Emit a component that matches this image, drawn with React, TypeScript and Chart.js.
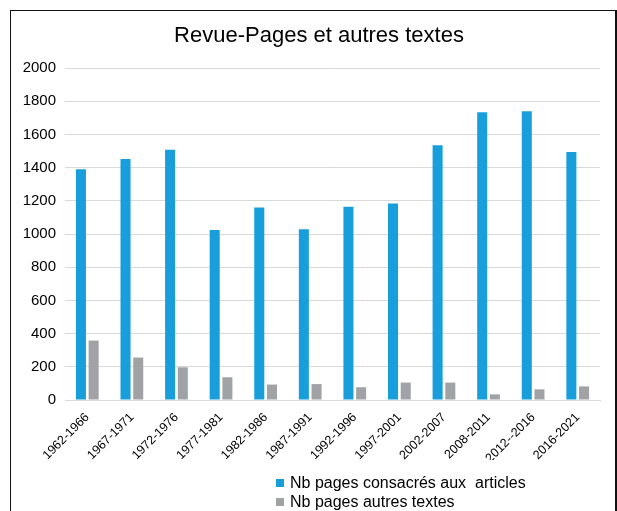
import React, { useEffect, useRef } from "react";
import { Chart, registerables } from "chart.js";

Chart.register(...registerables);

const categories = [
  "1962-1966",
  "1967-1971",
  "1972-1976",
  "1977-1981",
  "1982-1986",
  "1987-1991",
  "1992-1996",
  "1997-2001",
  "2002-2007",
  "2008-2011",
  "2012--2016",
  "2016-2021",
];
const articlePages = [1390, 1452, 1508, 1024, 1160, 1028, 1164, 1184, 1535, 1733, 1739, 1494];
const otherPages = [358, 256, 197, 137, 93, 96, 77, 105, 105, 34, 64, 82];
const seriesNames = ["Nb pages consacrés aux  articles", "Nb pages autres textes"];
const yTicks = [0, 200, 400, 600, 800, 1000, 1200, 1400, 1600, 1800, 2000];
const chartTitle = "Revue-Pages et autres textes";

const FONT = "'Liberation Sans', Arial, sans-serif";

const titleLegendPlugin = {
  id: "titleAndLegend",
  afterDraw(chart: any) {
    const ctx = chart.ctx;
    ctx.save();
    // title
    ctx.font = `22px ${FONT}`;
    ctx.fillStyle = "#000";
    ctx.textAlign = "center";
    ctx.textBaseline = "middle";
    ctx.fillText(chartTitle, 319, 36);
    // legend
    ctx.font = `16px ${FONT}`;
    ctx.textAlign = "left";
    const x0 = 276;
    const y0 = 483;
    const rowH = 19;
    chart.data.datasets.forEach((ds: any, i: number) => {
      const y = y0 + i * rowH;
      ctx.fillStyle = ds.backgroundColor;
      ctx.fillRect(x0, y - 4, 8, 8);
      ctx.fillStyle = "#000";
      ctx.fillText(ds.label, x0 + 14, y + 0.5);
    });
    ctx.restore();
  },
};

export default function App() {
  const ref = useRef<HTMLCanvasElement>(null);

  useEffect(() => {
    if (!ref.current) return;
    const chart = new Chart(ref.current, {
      type: "bar",
      data: {
        labels: categories,
        datasets: [
          {
            label: seriesNames[0],
            data: articlePages,
            backgroundColor: "#189fdb",
            categoryPercentage: 0.57,
            barPercentage: 0.79,
          },
          {
            label: seriesNames[1],
            data: otherPages,
            backgroundColor: "#a0a2a6",
            categoryPercentage: 0.57,
            barPercentage: 0.79,
          },
        ],
      },
      options: {
        animation: false,
        responsive: true,
        maintainAspectRatio: false,
        layout: { padding: { left: 0, right: 17, top: 68, bottom: 51 } },
        plugins: {
          legend: { display: false },
          tooltip: { enabled: false },
          title: { display: false },
        },
        scales: {
          x: {
            grid: { display: false, drawTicks: false },
            border: { display: true, color: "#d9d9d9", width: 1 },
            ticks: {
              color: "#000",
              font: { family: FONT, size: 12.5 },
              maxRotation: 45,
              minRotation: 45,
              padding: 10,
              autoSkip: false,
            },
            afterFit(scale: any) {
              scale.height = 60;
            },
          },
          y: {
            min: 0,
            max: 2000,
            afterBuildTicks(scale: any) {
              scale.ticks = yTicks.map((v) => ({ value: v }));
            },
            grid: { color: "#d9d9d9", lineWidth: 1, drawTicks: false },
            border: { display: false },
            ticks: {
              color: "#000",
              font: { family: FONT, size: 15 },
              padding: 9,
              callback: (v: any) => String(v),
            },
            afterFit(scale: any) {
              scale.width = 65;
            },
          },
        },
      },
      plugins: [titleLegendPlugin],
    });
    return () => chart.destroy();
  }, []);

  return (
    <div style={{ position: "absolute", left: 0, top: 0, width: 617, height: 511, background: "#fff", overflow: "hidden" }}>
      <canvas ref={ref} />
      <div
        style={{
          position: "absolute",
          left: 10,
          top: 10,
          width: 604,
          height: 520,
          borderLeft: "1.5px solid #111",
          borderTop: "1.5px solid #111",
          borderRight: "2px solid #111",
          pointerEvents: "none",
        }}
      />
    </div>
  );
}
